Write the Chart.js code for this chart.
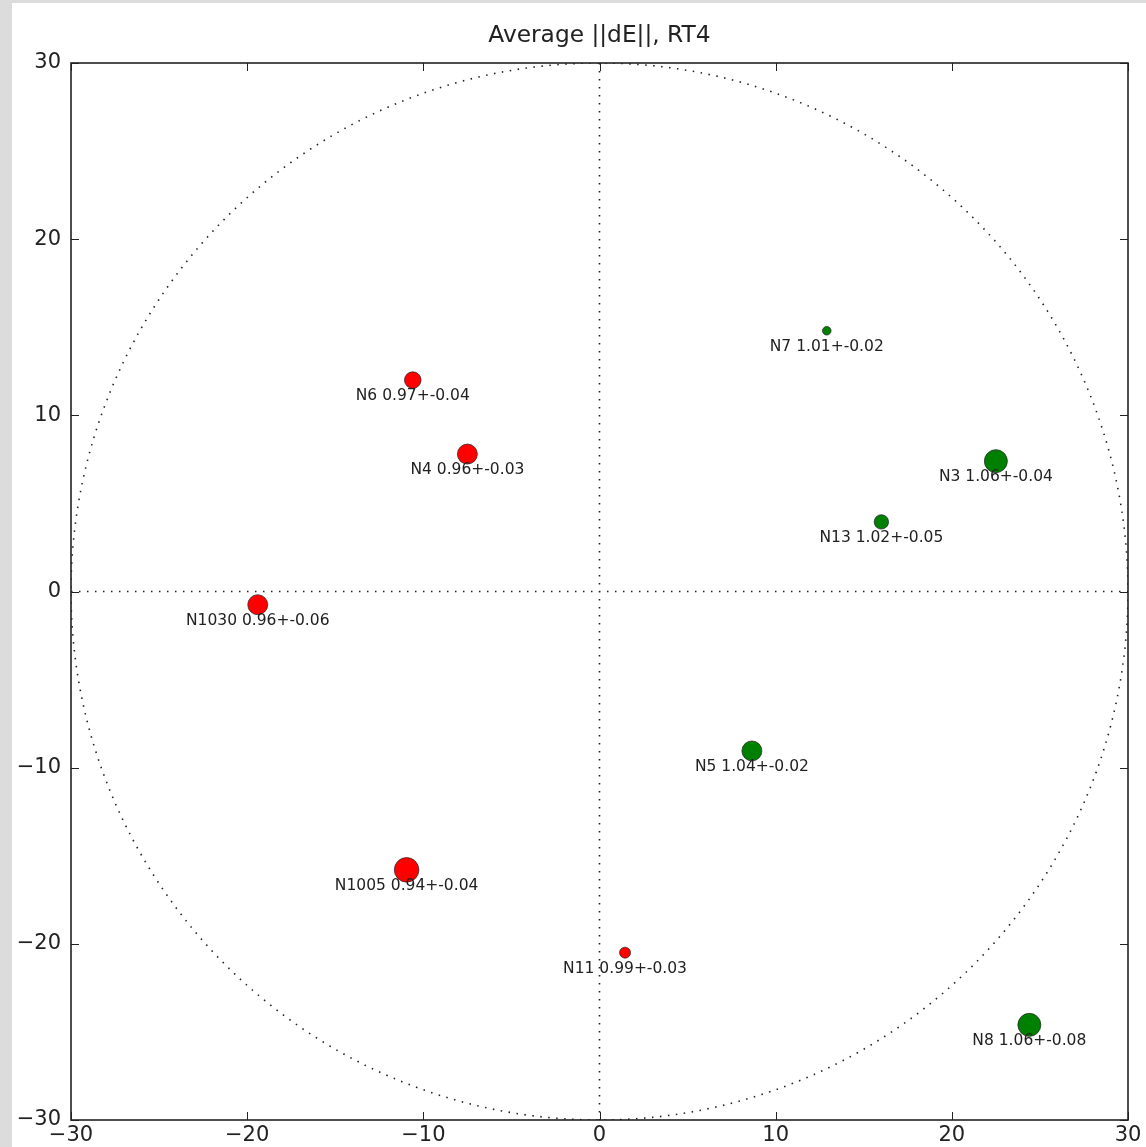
<!DOCTYPE html>
<html>
<head>
<meta charset="utf-8">
<script src="https://cdn.jsdelivr.net/npm/chart.js@4.4.1/dist/chart.umd.min.js"></script>
<style>
    html, body { margin: 0; padding: 0; background: #dcdcdc; }
    #wrap { position: absolute; left: 12px; top: 3px; width: 1134px; height: 1144px; background: #fff; }
</style>
</head>
<body>
<div id="wrap"><canvas id="dEChart" width="1134" height="1144"></canvas></div>
<script>
// Station data
const names = ['N6', 'N4', 'N7', 'N3', 'N13', 'N1030', 'N5', 'N1005', 'N11', 'N8'];
const xs = [-10.6, -7.5, 12.9, 22.5, 16.0, -19.4, 8.65, -10.95, 1.45, 24.4];
const ys = [12.0, 7.8, 14.8, 7.4, 3.95, -0.75, -9.05, -15.8, -20.5, -24.6];
const means = [0.97, 0.96, 1.01, 1.06, 1.02, 0.96, 1.04, 0.94, 0.99, 1.06];
const errs = [0.04, 0.03, 0.02, 0.04, 0.05, 0.06, 0.02, 0.04, 0.03, 0.08];
const radii = [8.3, 10, 4.3, 11.5, 7.2, 10, 10, 12.3, 5.5, 11.5];
const tickValues = [-30, -20, -10, 0, 10, 20, 30];
const circleRadius = 30;
const chartTitle = 'Average ||dE||, RT4';

const FONT = '"DejaVu Sans", sans-serif';

function buildDataset(below) {
    const pts = [], rad = [], lbl = [];
    names.forEach((n, i) => {
        if ((means[i] < 1) === below) {
            pts.push({ x: xs[i], y: ys[i] });
            rad.push(radii[i]);
            lbl.push(n + ' ' + means[i].toFixed(2) + '+-' + errs[i].toFixed(2));
        }
    });
    return {
        data: pts,
        labelsText: lbl,
        pointRadius: rad,
        pointHoverRadius: rad,
        backgroundColor: below ? '#ff0000' : '#008000',
        borderColor: '#222',
        borderWidth: 0.7
    };
}

function fmtTick(v) {
    return v < 0 ? '\u2212' + Math.abs(v) : String(v);
}

// dotted circle + zero lines, under the points
const guidesPlugin = {
    id: 'guides',
    beforeDatasetsDraw(chart) {
        const { ctx, chartArea: a, scales: { x, y } } = chart;
        ctx.save();
        ctx.beginPath();
        ctx.rect(a.left, a.top, a.right - a.left, a.bottom - a.top);
        ctx.clip();
        ctx.strokeStyle = '#222';
        ctx.lineWidth = 1.6;
        ctx.setLineDash([1.5, 6.5]);
        const cx = x.getPixelForValue(0), cy = y.getPixelForValue(0);
        const rx = x.getPixelForValue(circleRadius) - cx;
        const ry = cy - y.getPixelForValue(circleRadius);
        ctx.beginPath();
        ctx.ellipse(cx, cy, rx, ry, 0, 0, Math.PI * 2);
        ctx.stroke();
        ctx.beginPath();
        ctx.moveTo(a.left, cy); ctx.lineTo(a.right, cy);
        ctx.moveTo(cx, a.top); ctx.lineTo(cx, a.bottom);
        ctx.stroke();
        ctx.restore();
    },
    afterDatasetsDraw(chart) {
        const { ctx, chartArea: a, scales: { x, y } } = chart;
        ctx.save();
        // point labels
        ctx.font = '15.5px ' + FONT;
        ctx.fillStyle = '#222';
        ctx.textAlign = 'center';
        ctx.textBaseline = 'middle';
        chart.data.datasets.forEach(ds => {
            ds.data.forEach((p, i) => {
                ctx.fillText(ds.labelsText[i], x.getPixelForValue(p.x), y.getPixelForValue(p.y) + 16);
            });
        });
        // frame
        ctx.strokeStyle = '#222';
        ctx.lineWidth = 1.6;
        ctx.strokeRect(a.left, a.top, a.right - a.left, a.bottom - a.top);
        // inward ticks on all sides
        ctx.lineWidth = 1;
        ctx.beginPath();
        tickValues.forEach(v => {
            const px = Math.round(x.getPixelForValue(v)) + 0.5;
            const py = Math.round(y.getPixelForValue(v)) + 0.5;
            ctx.moveTo(px, a.bottom); ctx.lineTo(px, a.bottom - 8);
            ctx.moveTo(px, a.top); ctx.lineTo(px, a.top + 8);
            ctx.moveTo(a.left, py); ctx.lineTo(a.left + 8, py);
            ctx.moveTo(a.right, py); ctx.lineTo(a.right - 8, py);
        });
        ctx.stroke();
        // title
        ctx.font = '23.3px ' + FONT;
        ctx.fillStyle = '#222';
        ctx.textBaseline = 'middle';
        ctx.fillText(chartTitle, (a.left + a.right) / 2, 33);
        ctx.restore();
    }
};

new Chart(document.getElementById('dEChart'), {
    type: 'scatter',
    data: { datasets: [buildDataset(true), buildDataset(false)] },
    options: {
        responsive: false,
        animation: false,
        layout: { padding: { top: 60, right: 18, left: 0, bottom: 0 } },
        plugins: {
            legend: { display: false },
            tooltip: { enabled: false },
            title: { display: false }
        },
        scales: {
            x: {
                min: -30, max: 30,
                grid: { display: false, drawTicks: false },
                border: { display: false },
                afterFit: s => { s.height = 27; },
                ticks: {
                    stepSize: 10, padding: 3,
                    color: '#222',
                    font: { family: FONT, size: 21 },
                    callback: fmtTick,
                    maxRotation: 0
                }
            },
            y: {
                min: -30, max: 30,
                grid: { display: false, drawTicks: false },
                border: { display: false },
                afterFit: s => { s.width = 59; },
                ticks: {
                    stepSize: 10, padding: 10,
                    color: '#222',
                    font: { family: FONT, size: 21 },
                    callback: fmtTick
                }
            }
        }
    },
    plugins: [guidesPlugin]
});
</script>
</body>
</html>
